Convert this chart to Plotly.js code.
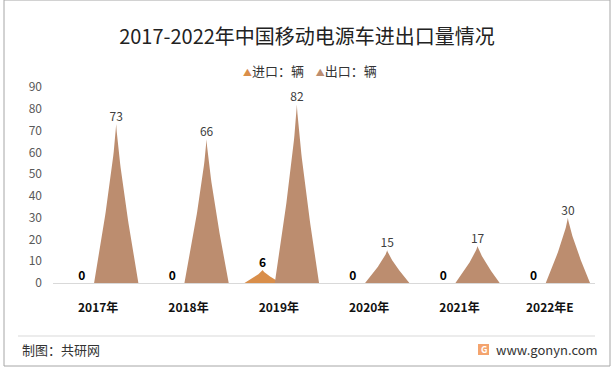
<!DOCTYPE html>
<html>
<head>
<meta charset="utf-8">
<script src="https://cdn.plot.ly/plotly-3.0.1.min.js"></script>
<style>
html,body{margin:0;padding:0;background:#fff;}
#chart{width:614px;height:370px;}
</style>
</head>
<body>
<div id="chart"></div>
<script>
// ---- data ----
var categories = ["2017年", "2018年", "2019年", "2020年", "2021年", "2022年E"];
var importVals = [0, 0, 6, 0, 0, 0];
var exportVals = [73, 66, 82, 15, 17, 30];
var seriesNames = ["进口：辆", "出口：辆"];
var yTicks = [0, 10, 20, 30, 40, 50, 60, 70, 80, 90];

// ---- style ----
var importColor = "#D98E4A";
var exportColor = "#BC8D6F";
var FONT = "'Noto Sans CJK SC', 'Noto Sans', sans-serif";

function spike(center, halfW, value, p) {
  var xs = [], ys = [];
  var N = 40, i, v;
  for (i = 0; i <= N; i++) { v = i / N; xs.push(center - halfW * Math.pow(1 - v, p)); ys.push(value * v); }
  for (i = N - 1; i >= 0; i--) { v = i / N; xs.push(center + halfW * Math.pow(1 - v, p)); ys.push(value * v); }
  return {x: xs, y: ys};
}

var traces = [];
var impOff = -0.18, expOff = 0.2;
categories.forEach(function (c, i) {
  if (importVals[i] > 0) {
    var s = spike(i + impOff, 0.2, importVals[i], 1.3);
    traces.push({x: s.x, y: s.y, mode: "lines", fill: "toself", fillcolor: importColor,
      line: {width: 0, color: importColor}, hoverinfo: "skip", showlegend: false});
  }
});
categories.forEach(function (c, i) {
  if (exportVals[i] > 0) {
    var s = spike(i + expOff, 0.245, exportVals[i], 1.25);
    traces.push({x: s.x, y: s.y, mode: "lines", fill: "toself", fillcolor: exportColor,
      line: {width: 0, color: exportColor}, hoverinfo: "skip", showlegend: false});
  }
});
// data labels
traces.push({
  x: categories.map(function (c, i) { return i + impOff; }), y: importVals,
  mode: "text", text: importVals.map(String), textposition: "top center",
  textfont: {family: FONT, size: 12, color: "#000", weight: "bold"}, hoverinfo: "skip", showlegend: false
});
traces.push({
  x: categories.map(function (c, i) { return i + expOff; }), y: exportVals,
  mode: "text", text: exportVals.map(String), textposition: "top center",
  textfont: {family: FONT, size: 12, color: "#404040"}, hoverinfo: "skip", showlegend: false
});

var legendText = '<span style="color:' + importColor + ';font-size:9px">▲</span>' + seriesNames[0] +
  '    <span style="color:' + exportColor + ';font-size:9px">▲</span>' + seriesNames[1];

var layout = {
  width: 614, height: 370,
  margin: {l: 53, r: 19, t: 87, b: 87},
  paper_bgcolor: "#fff", plot_bgcolor: "rgba(0,0,0,0)",
  font: {family: FONT, color: "#404040"},
  title: {text: "2017-2022年中国移动电源车进出口量情况", font: {family: FONT, size: 20, color: "#222"},
    x: 0.5, xanchor: "center", y: 0.9, yanchor: "middle", yref: "container"},
  showlegend: false,
  xaxis: {
    range: [-0.5, 5.5], tickvals: categories.map(function (c, i) { return i; }), ticktext: categories,
    showgrid: false, zeroline: false, showline: true, linecolor: "#d9d9d9", linewidth: 1,
    ticks: "", ticklabelstandoff: 14,
    tickfont: {family: FONT, size: 12, color: "#111", weight: "bold"}, fixedrange: true
  },
  yaxis: {
    range: [0, 90], tickvals: yTicks, showgrid: false, zeroline: false, showline: false,
    ticks: "", ticklabelstandoff: 10,
    tickfont: {family: FONT, size: 12, color: "#595959"}, fixedrange: true
  },
  shapes: [
    {type: "rect", xref: "paper", yref: "paper", xsizemode: "pixel", ysizemode: "pixel",
      xanchor: 0, yanchor: 0, x0: -49, x1: 557, y0: -83, y1: 283,
      line: {color: "#a6a6a6", width: 1}, fillcolor: "rgba(0,0,0,0)"},
    {type: "line", xref: "paper", yref: "paper", xsizemode: "pixel", ysizemode: "pixel",
      xanchor: 0, yanchor: 0, x0: -35, x1: 542, y0: -53, y1: -53,
      line: {color: "#d9d9d9", width: 1}},
    {type: "rect", xref: "paper", yref: "paper", xsizemode: "pixel", ysizemode: "pixel",
      xanchor: 0, yanchor: 0, x0: 425, x1: 436, y0: -72, y1: -61,
      line: {width: 0}, fillcolor: "#F4A46E"}
  ],
  annotations: [
    {text: legendText, xref: "paper", yref: "paper", x: 0, y: 1, xshift: 257, yshift: 17,
      xanchor: "center", yanchor: "middle", showarrow: false, font: {family: FONT, size: 13, color: "#333"}},
    {text: "制图：共研网", xref: "paper", yref: "paper", x: 0, y: 0, xshift: -33, yshift: -66,
      xanchor: "left", yanchor: "middle", showarrow: false, font: {family: FONT, size: 13, color: "#333"}},
    {text: "www.gonyn.com", xref: "paper", yref: "paper", x: 0, y: 0, xshift: 441, yshift: -66,
      xanchor: "left", yanchor: "middle", showarrow: false, font: {family: FONT, size: 13, color: "#333"}},
    {text: "G", xref: "paper", yref: "paper", x: 0, y: 0, xshift: 430.5, yshift: -66.5,
      xanchor: "center", yanchor: "middle", showarrow: false, font: {family: FONT, size: 9, color: "#fff", weight: "bold"}}
  ]
};

Plotly.newPlot("chart", traces, layout, {displayModeBar: false, staticPlot: true});
</script>
</body>
</html>
